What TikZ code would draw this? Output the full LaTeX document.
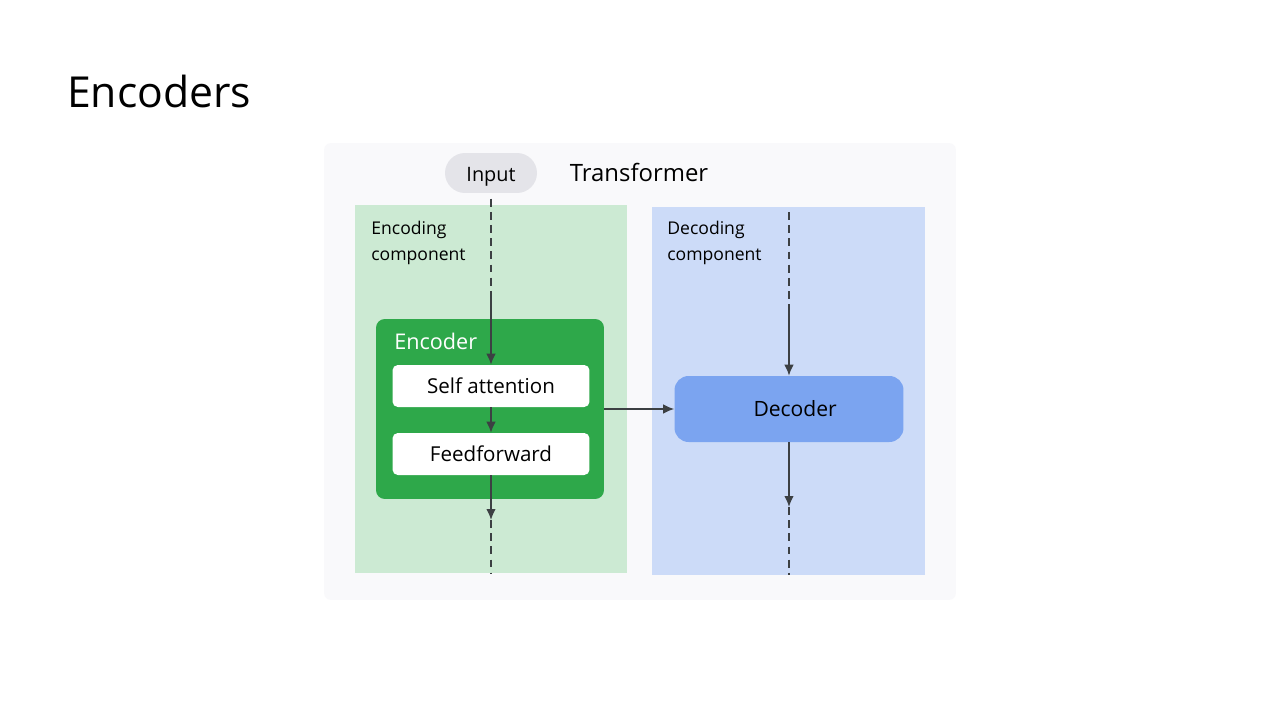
\documentclass[tikz,border=0pt]{standalone}
\usepackage{fontspec}
\setmainfont{Open Sans}
\usetikzlibrary{arrows.meta,positioning}
\definecolor{sfondo}{HTML}{F9F9FB}
\definecolor{ingresso}{HTML}{E4E4E9}
\definecolor{verdechiaro}{HTML}{CCEAD3}
\definecolor{verde}{HTML}{2EA84A}
\definecolor{bluchiaro}{HTML}{CCDBF8}
\definecolor{blu}{HTML}{7BA4F0}
\definecolor{linea}{HTML}{3C4043}

\begin{document}
\begin{tikzpicture}[x=0.02cm,y=-0.02cm,
  pannello/.style={fill=#1,draw=none,inner sep=0pt},
  blocco/.style={fill=white,rounded corners=3pt,minimum width=3.94cm,minimum height=0.84cm,inner sep=0pt,font=\fontsize{11.7}{13}\selectfont},
  freccia/.style={-{Latex[length=2.2mm,width=1.9mm]},draw=linea,line width=0.8pt},
  tratt/.style={draw=linea,line width=0.8pt,dash pattern=on 4.5pt off 3pt}]
\useasboundingbox[fill=white] (0,0) rectangle (1280,720);
% titolo
\node[anchor=west,font=\fontsize{24.3}{28}\selectfont] (titolo) at (61,91) {Encoders};
% riquadro transformer
\node[pannello=sfondo,rounded corners=4pt,minimum width=12.64cm,minimum height=9.14cm] (trasf) at (640,371.5) {};
\node[fill=ingresso,rounded corners=0.4cm,minimum width=1.84cm,minimum height=0.8cm,inner sep=0pt,text height=12.5pt,text depth=2.5pt,font=\fontsize{11.3}{13}\selectfont] (input) at (491,173) {Input};
\node[font=\fontsize{13.6}{16}\selectfont] (nome) at (639,172) {Transformer};
% componenti
\node[pannello=verdechiaro,minimum width=5.44cm,minimum height=7.36cm] (enccomp) at (491,389) {};
\node[pannello=bluchiaro,minimum width=5.46cm,minimum height=7.36cm] (deccomp) at (788.5,391) {};
\node[anchor=north west,align=left,inner sep=0pt,font=\fontsize{10}{14.5}\selectfont] (enctxt) at (371,221) {Encoding\\component};
\node[anchor=north west,align=left,inner sep=0pt,font=\fontsize{10}{14.5}\selectfont] (dectxt) at (667,221) {Decoding\\component};
% encoder
\node[fill=verde,rounded corners=5pt,minimum width=4.56cm,minimum height=3.6cm] (encoder) at (490,409) {};
\node[anchor=west,text=white,inner sep=0pt,font=\fontsize{12.3}{14}\selectfont] (enclab) at (394,341) {Encoder};
\node[blocco] (sa) at (491,386) {Self attention};
\node[blocco] (ff) at (491,454) {Feedforward};
% decoder
\node[fill=blu,rounded corners=8pt,minimum width=4.58cm,minimum height=1.32cm,inner sep=0pt,font=\fontsize{12}{14}\selectfont] (decoder) at (789,409) {\hspace{7pt}Decoder};
% punti di passaggio
\coordinate (encA) at (491,298);
\coordinate (encB) at (491,520);
\coordinate (encC) at (491,573);
\coordinate (decT) at (789,212);
\coordinate (decA) at (789,310);
\coordinate (decB) at (789,507);
\coordinate (decC) at (789,575);
% frecce
\draw[tratt,shorten <=3pt] (input.south) -- (encA);
\draw[freccia] (encA) -- (sa.north);
\draw[freccia] (sa.south) -- (ff.north);
\draw[freccia] (ff.south) -- (encB);
\draw[tratt] (encB) -- (encC);
\draw[freccia] (encoder.east) -- (decoder.west);
\draw[tratt] (decT) -- (decA);
\draw[freccia] (decA) -- (decoder.north);
\draw[freccia] (decoder.south) -- (decB);
\draw[tratt] (decB) -- (decC);
\end{tikzpicture}
\end{document}
